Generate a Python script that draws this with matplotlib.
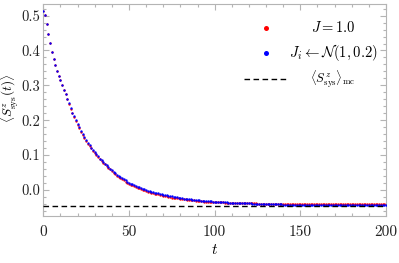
import numpy as np
import matplotlib
matplotlib.use('Agg')
import matplotlib.pyplot as plt
from matplotlib.ticker import MultipleLocator, FormatStrFormatter

plt.rcParams['mathtext.fontset'] = 'cm'
plt.rcParams['font.family'] = 'serif'
plt.rcParams['font.serif'] = ['cmr10', 'DejaVu Serif']
plt.rcParams['axes.formatter.use_mathtext'] = True

t_vals = np.arange(0, 201)

s_uniform = [
    0.513, 0.501, 0.476, 0.448, 0.421, 0.396, 0.375, 0.357, 0.342, 0.328,
    0.315, 0.301, 0.288, 0.274, 0.261, 0.246, 0.233, 0.220, 0.209, 0.198,
    0.187, 0.177, 0.167, 0.158, 0.149, 0.141, 0.133, 0.126, 0.119, 0.112,
    0.106, 0.100, 0.094, 0.088, 0.083, 0.078, 0.073, 0.068, 0.063, 0.059,
    0.053, 0.049, 0.045, 0.041, 0.037, 0.034, 0.030, 0.027, 0.024, 0.021,
    0.018, 0.015, 0.013, 0.010, 0.008, 0.006, 0.004, 0.002, 0.000, -0.001,
    -0.003, -0.005, -0.006, -0.008, -0.009, -0.011, -0.012, -0.013, -0.014, -0.016,
    -0.017, -0.018, -0.019, -0.020, -0.021, -0.022, -0.022, -0.023, -0.023, -0.024,
    -0.025, -0.026, -0.027, -0.027, -0.028, -0.029, -0.029, -0.030, -0.030, -0.031,
    -0.032, -0.032, -0.033, -0.033, -0.034, -0.034, -0.034, -0.034, -0.035, -0.035,
    -0.035, -0.035, -0.036, -0.036, -0.036, -0.036, -0.037, -0.037, -0.037, -0.037,
    -0.038, -0.038, -0.038, -0.038, -0.038, -0.039, -0.039, -0.039, -0.039, -0.039,
    -0.039, -0.039, -0.039, -0.039, -0.039, -0.040, -0.040, -0.040, -0.040, -0.040,
    -0.040, -0.040, -0.040, -0.040, -0.040, -0.040, -0.040, -0.040, -0.040, -0.040,
    -0.041, -0.041, -0.041, -0.041, -0.041, -0.041, -0.041, -0.041, -0.041, -0.041,
    -0.041, -0.041, -0.041, -0.041, -0.041, -0.041, -0.041, -0.041, -0.041, -0.041,
    -0.041, -0.041, -0.041, -0.041, -0.041, -0.041, -0.041, -0.041, -0.041, -0.041,
    -0.041, -0.041, -0.041, -0.041, -0.041, -0.041, -0.041, -0.041, -0.041, -0.041,
    -0.041, -0.041, -0.041, -0.041, -0.041, -0.041, -0.041, -0.041, -0.041, -0.041,
    -0.041, -0.041, -0.041, -0.041, -0.041, -0.041, -0.041, -0.041, -0.041, -0.041,
    -0.041,
]

s_random = [
    0.513, 0.501, 0.476, 0.448, 0.421, 0.396, 0.375, 0.357, 0.342, 0.328,
    0.315, 0.301, 0.288, 0.274, 0.261, 0.248, 0.235, 0.222, 0.211, 0.200,
    0.189, 0.179, 0.169, 0.160, 0.151, 0.143, 0.135, 0.128, 0.121, 0.114,
    0.108, 0.102, 0.096, 0.090, 0.085, 0.080, 0.075, 0.070, 0.065, 0.061,
    0.056, 0.052, 0.048, 0.044, 0.040, 0.037, 0.033, 0.030, 0.027, 0.024,
    0.021, 0.018, 0.016, 0.013, 0.011, 0.009, 0.007, 0.005, 0.003, 0.002,
    0.000, -0.002, -0.003, -0.005, -0.006, -0.008, -0.009, -0.010, -0.011, -0.013,
    -0.014, -0.015, -0.016, -0.017, -0.018, -0.019, -0.020, -0.021, -0.021, -0.022,
    -0.023, -0.024, -0.025, -0.025, -0.026, -0.027, -0.027, -0.028, -0.028, -0.029,
    -0.030, -0.030, -0.031, -0.031, -0.032, -0.032, -0.032, -0.033, -0.033, -0.034,
    -0.034, -0.034, -0.035, -0.035, -0.035, -0.036, -0.036, -0.036, -0.037, -0.037,
    -0.037, -0.037, -0.038, -0.038, -0.038, -0.038, -0.038, -0.039, -0.039, -0.039,
    -0.039, -0.039, -0.040, -0.040, -0.040, -0.040, -0.040, -0.040, -0.040, -0.041,
    -0.041, -0.041, -0.041, -0.041, -0.041, -0.041, -0.041, -0.041, -0.041, -0.041,
    -0.042, -0.042, -0.042, -0.042, -0.042, -0.042, -0.042, -0.042, -0.042, -0.042,
    -0.042, -0.042, -0.042, -0.042, -0.042, -0.043, -0.043, -0.043, -0.043, -0.043,
    -0.043, -0.043, -0.043, -0.043, -0.043, -0.043, -0.043, -0.043, -0.043, -0.043,
    -0.043, -0.043, -0.043, -0.043, -0.043, -0.043, -0.043, -0.043, -0.043, -0.043,
    -0.044, -0.044, -0.044, -0.044, -0.044, -0.044, -0.044, -0.044, -0.044, -0.044,
    -0.044, -0.044, -0.044, -0.044, -0.044, -0.044, -0.044, -0.044, -0.044, -0.044,
    -0.044,
]

s_mc = -0.045

x_ticks = [0, 50, 100, 150, 200]
y_ticks = [0.0, 0.1, 0.2, 0.3, 0.4, 0.5]

labels = [r'$J = 1.0$', r'$J_i \leftarrow \mathcal{N}(1, 0.2)$',
          r'$\langle S^z_{\rm sys}\rangle_{\rm mc}$']
label_sizes = [10.5, 10.5, 9.0]

frame_col = '#b4b4b4'

fig = plt.figure(figsize=(3.99, 2.63), dpi=100)
ax = fig.add_axes([0.1085, 0.1787, 0.8589, 0.8042])

ax.plot(t_vals, s_uniform, 'o', color='#ff0000', ms=1.7, mew=0, zorder=2)
ax.plot(t_vals, s_random, 'o', color='#0000ff', ms=1.7, mew=0, zorder=3)
ax.axhline(s_mc, color='black', lw=1.0, dashes=(4, 2.5), zorder=4)

ax.set_xlim(0, 200)
ax.set_ylim(-0.075, 0.532)
ax.set_xticks(x_ticks)
ax.set_yticks(y_ticks)
ax.xaxis.set_minor_locator(MultipleLocator(10))
ax.yaxis.set_minor_locator(MultipleLocator(0.02))
ax.xaxis.set_major_formatter(FormatStrFormatter('%d'))
ax.yaxis.set_major_formatter(FormatStrFormatter('%.1f'))

ax.tick_params(which='both', direction='in', top=True, right=True,
               color=frame_col, width=0.8, labelsize=11, labelcolor='#222222')
ax.tick_params(axis='y', labelsize=10.5)
ax.tick_params(which='major', length=4)
ax.tick_params(which='minor', length=2)
ax.tick_params(axis='x', pad=7)
ax.tick_params(axis='y', pad=2)
for sp in ax.spines.values():
    sp.set_color(frame_col)
    sp.set_linewidth(0.8)

ax.set_xlabel(r'$t$', fontsize=11)
ax.xaxis.set_label_coords(0.5, -0.128)
ax.set_ylabel(r'$\langle S^z_{\rm sys}(t)\rangle$', fontsize=9.5)
ax.yaxis.set_label_coords(-0.064, 0.558)

# legend
ax.plot([0.650], [0.889], 'o', color='#ff0000', ms=3.6, mew=0,
        transform=ax.transAxes, clip_on=False)
ax.plot([0.650], [0.771], 'o', color='#0000ff', ms=3.6, mew=0,
        transform=ax.transAxes, clip_on=False)
ax.plot([0.587, 0.711], [0.648, 0.648], color='black', lw=1.0,
        dashes=(4, 2.5), transform=ax.transAxes, clip_on=False)
for lab, yy, fs in zip(labels, [0.889, 0.771, 0.648], label_sizes):
    ax.text(0.845, yy, lab, transform=ax.transAxes, ha='center',
            va='center', fontsize=fs)

fig.savefig('out.png', dpi=100)
